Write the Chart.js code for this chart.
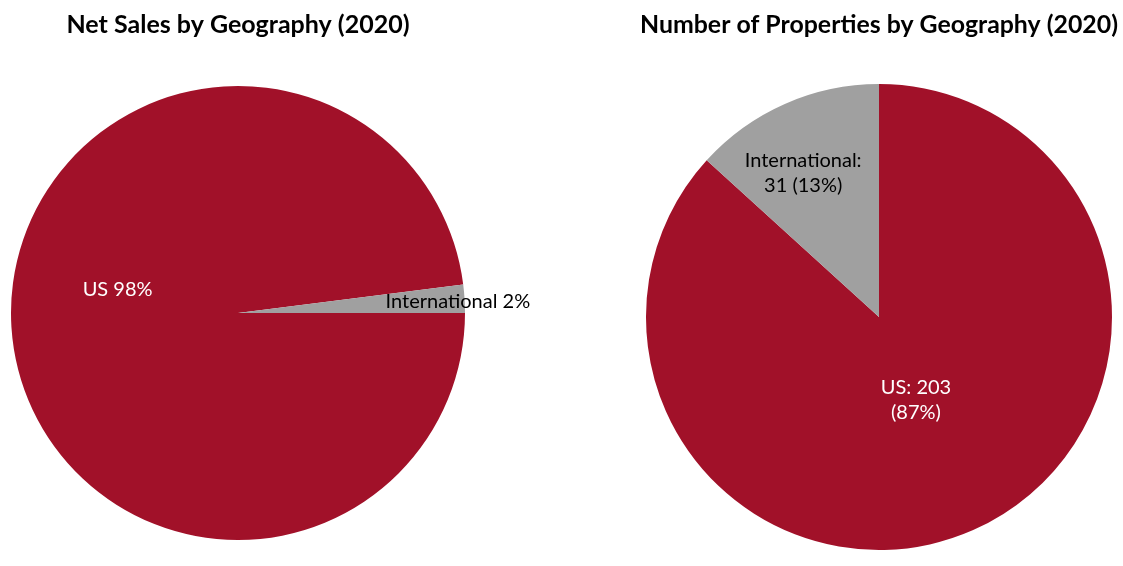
<!DOCTYPE html>
<html>
<head>
<meta charset="utf-8">
<script src="https://cdn.jsdelivr.net/npm/chart.js@4.4.0/dist/chart.umd.min.js"></script>
<style>
  html, body { margin: 0; padding: 0; background: #fff; }
  body { width: 1123px; height: 566px; position: relative; overflow: hidden; }
  .box { position: absolute; top: 0; }
  #box1 { left: 0; width: 560px; height: 566px; }
  #box2 { left: 640px; width: 478px; height: 566px; }
</style>
</head>
<body>
<div class="box" id="box1"><canvas id="chart1"></canvas></div>
<div class="box" id="box2"><canvas id="chart2"></canvas></div>
<script>
// data
const salesLabels = ['US', 'International'];
const salesValues = [98, 2];
const salesText = ['US 98%', 'International 2%'];

const propLabels = ['US', 'International'];
const propValues = [203, 31];
const propText = [['US: 203', '(87%)'], ['International:', '31 (13%)']];

const red = '#A11129';
const grey = '#A0A0A0';
const fontName = 'Lato, "Open Sans", sans-serif';

// label spots: angle clockwise from 12 o'clock, distance as part of radius
const salesSpots = [{ a: 280.8, r: 0.54 }, { a: 86.9, r: 0.97 }];
const propSpots = [{ a: 156, r: 0.39 }, { a: 332.3, r: 0.70 }];

const sliceLabels = {
    id: 'sliceLabels',
    afterDatasetsDraw(chart, args, opts) {
        const ctx = chart.ctx;
        const arcs = chart.getDatasetMeta(0).data;
        ctx.save();
        ctx.font = '20px ' + fontName;
        ctx.textAlign = 'center';
        ctx.textBaseline = 'middle';
        arcs.forEach(function (arc, i) {
            const spot = opts.spots[i];
            const ang = (spot.a - 90) * Math.PI / 180;
            const x = arc.x + Math.cos(ang) * arc.outerRadius * spot.r;
            const y = arc.y + Math.sin(ang) * arc.outerRadius * spot.r;
            let lines = opts.text[i];
            if (!Array.isArray(lines)) lines = [lines];
            ctx.fillStyle = opts.colors[i];
            const lh = 25;
            lines.forEach(function (line, k) {
                ctx.fillText(line, x, y + (k - (lines.length - 1) / 2) * lh);
            });
        });
        ctx.restore();
    }
};

function makePie(id, labels, values, rotation, title, titlePad, pad, text, spots) {
    new Chart(document.getElementById(id), {
        type: 'pie',
        data: {
            labels: labels,
            datasets: [{
                data: values,
                backgroundColor: [red, grey],
                borderWidth: 0
            }]
        },
        options: {
            responsive: true,
            maintainAspectRatio: false,
            animation: false,
            rotation: rotation,
            layout: { padding: pad },
            plugins: {
                legend: { display: false },
                tooltip: { enabled: false },
                title: {
                    display: true,
                    text: title,
                    color: '#000',
                    font: { family: fontName, size: 25, weight: 'bold', lineHeight: 1.2 },
                    padding: titlePad
                },
                sliceLabels: { text: text, spots: spots, colors: ['#fff', '#000'] }
            }
        },
        plugins: [sliceLabels]
    });
}

makePie('chart1', salesLabels, salesValues, 90, 'Net Sales by Geography (2020)',
    { top: 10, bottom: 46 }, { bottom: 26, right: 84 }, salesText, salesSpots);
makePie('chart2', propLabels, propValues, 0, 'Number of Properties by Geography (2020)',
    { top: 10, bottom: 44 }, { bottom: 16 }, propText, propSpots);
</script>
</body>
</html>
